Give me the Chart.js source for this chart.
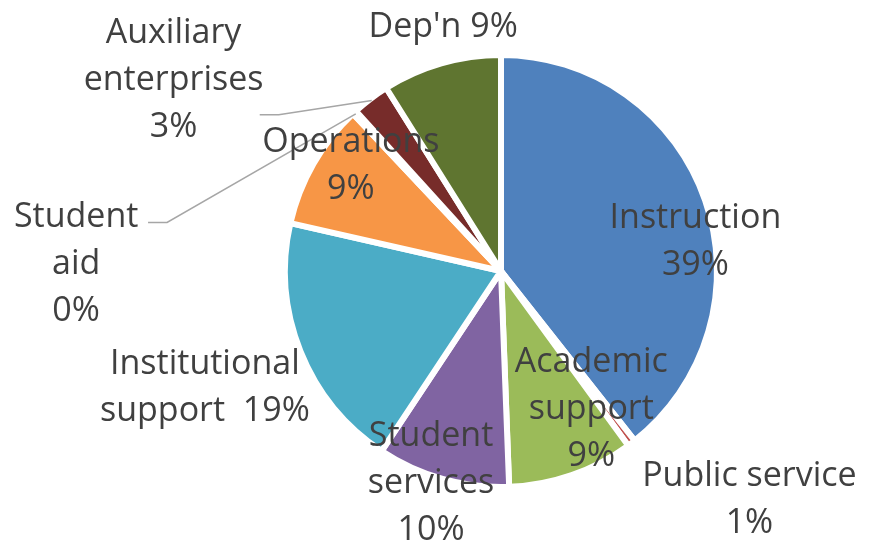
<!DOCTYPE html>
<html>
<head>
<meta charset="utf-8">
<script src="https://cdn.jsdelivr.net/npm/chart.js@4.4.0/dist/chart.umd.min.js"></script>
<style>
    body { margin: 0; background: #ffffff; }
    #wrap { width: 869px; height: 540px; }
</style>
</head>
<body>
<div id="wrap"><canvas id="myPieChart" width="869" height="540"></canvas></div>
<script>
// spending categories, in the order the slices run clockwise from 12 o'clock
const categories = ['Instruction', 'Public service', 'Academic support', 'Student services',
    'Institutional support', 'Operations', 'Student aid', 'Auxiliary enterprises', "Dep'n"];
// share of spending (percent)
const shares = [39.3, 0.6, 9.4, 9.9, 19.2, 9.4, 0.3, 2.8, 8.9];
const sliceColors = ['#4F81BD', '#C0504D', '#9BBB59', '#8064A2', '#4BACC6',
    '#F79646', '#2C4D75', '#772C2A', '#5F7530'];

// how each label is wrapped; {p} is replaced by the rounded percent
const labelLines = [
    ['Instruction', '{p}'],
    ['Public service', '{p}'],
    ['Academic', 'support', '{p}'],
    ['Student', 'services', '{p}'],
    ['Institutional', 'support  {p}'],
    ['Operations', '{p}'],
    ['Student', 'aid', '{p}'],
    ['Auxiliary', 'enterprises', '{p}'],
    ["Dep'n {p}"]
];
// label centre, in units of the pie radius from the pie centre
const labelPos = [
    [0.90, -0.146], [1.15, 1.047], [0.418, 0.629], [-0.324, 0.972], [-1.371, 0.531],
    [-0.695, -0.498], [-1.967, -0.042], [-1.516, -0.892], [-0.268, -1.141]
];
// leader line start (radius units), only for labels that sit away from their slice
const leaderStart = { 6: [-1.634, -0.225], 7: [-1.117, -0.723] };

const labelFont = '34px "Open Sans"';
const lineHeight = 47;

const pieLabels = {
    id: 'pieLabels',
    afterDatasetsDraw(chart) {
        const ctx = chart.ctx;
        const arcs = chart.getDatasetMeta(0).data;
        const total = shares.reduce((a, b) => a + b, 0);
        ctx.save();

        // leader lines
        ctx.strokeStyle = '#A6A6A6';
        ctx.lineWidth = 1.5;
        Object.keys(leaderStart).forEach(function (k) {
            const arc = arcs[k];
            const R = arc.outerRadius;
            const mid = (arc.startAngle + arc.endAngle) / 2;
            const sx = arc.x + leaderStart[k][0] * R;
            const sy = arc.y + leaderStart[k][1] * R;
            ctx.beginPath();
            ctx.moveTo(sx, sy);
            ctx.lineTo(sx + 19, sy);
            ctx.lineTo(arc.x + Math.cos(mid) * (R - 2), arc.y + Math.sin(mid) * (R - 2));
            ctx.stroke();
        });

        ctx.font = labelFont;
        ctx.fillStyle = '#404040';
        ctx.textAlign = 'center';
        ctx.textBaseline = 'alphabetic';
        arcs.forEach(function (arc, i) {
            const R = arc.outerRadius;
            const pct = Math.round(shares[i] / total * 100) + '%';
            const lines = labelLines[i].map(l => l.replace('{p}', pct));
            const cx = arc.x + labelPos[i][0] * R;
            const cy = arc.y + labelPos[i][1] * R;
            // baseline sits half a cap height below each line's centre
            const top = cy - (lines.length - 1) * lineHeight / 2 + 12;
            lines.forEach(function (line, j) {
                ctx.fillText(line, cx, top + j * lineHeight);
            });
        });
        ctx.restore();
    }
};

const ctx = document.getElementById('myPieChart').getContext('2d');
const pieChart = new Chart(ctx, {
    type: 'pie',
    data: {
        labels: categories,
        datasets: [
            {
                data: shares,
                backgroundColor: sliceColors,
                borderColor: '#ffffff',
                borderWidth: 6,
            }
        ]
    },
    options: {
        responsive: false,
        animation: false,
        radius: 216,
        layout: {
            padding: { left: 200, right: 67, top: 41, bottom: 39 }
        },
        plugins: {
            legend: { display: false },
            tooltip: { enabled: false }
        }
    },
    plugins: [pieLabels]
});
</script>
</body>
</html>
